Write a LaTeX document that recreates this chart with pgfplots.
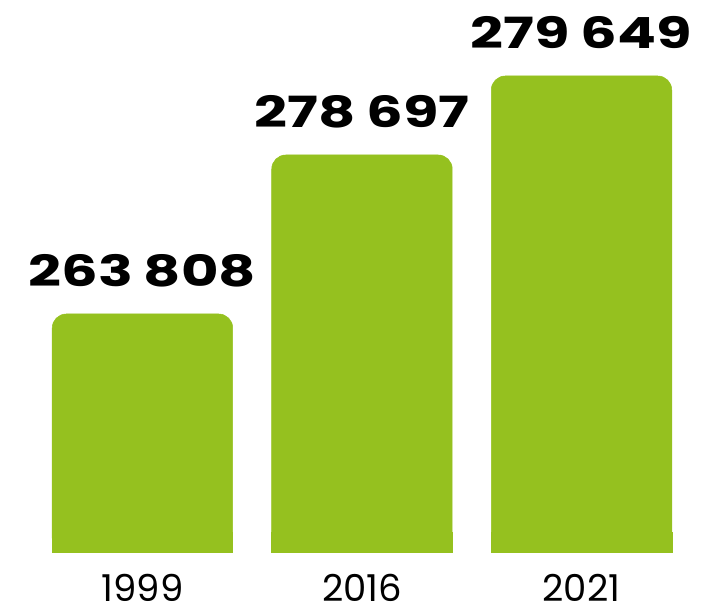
\documentclass[border=0pt]{standalone}
\usepackage{fontspec}
\setmainfont{Poppins}
\newfontfamily\valfont[FakeStretch=1.34]{Poppins}
\usepackage{pgfplots}
\pgfplotsset{compat=1.18}
\definecolor{barGreen}{HTML}{95C11F}

% h = drawn bar height (axis starts at 20), v = printed value
\pgfplotstableread{
x h v
0 258 263808
1 417 278697
2 496 279649
}\tbl

% square base that hides the lower rounded corners
\pgfplotstableread{
x h
0 40
1 40
2 40
}\base

\begin{document}
\begin{tikzpicture}
\path[use as bounding box] (0,-56pt) rectangle (704pt,552pt);
\begin{axis}[
  at={(0,0)}, anchor=south west,
  scale only axis,
  width=704pt, height=552pt,
  xmin=-0.649, xmax=2.558,
  ymin=20, ymax=572,
  ybar, bar width=180.5pt, bar shift=0pt,
  axis line style={draw=none},
  tick style={draw=none},
  ytick=\empty,
  xtick={0,1,2},
  xticklabels={1999,2016,2021},
  xticklabel style={font=\fontsize{37}{37}\selectfont, anchor=north, inner sep=0pt, yshift=-18pt},
]
\addplot[fill=barGreen, draw=barGreen, line width=0.5pt, rounded corners=14pt,
  point meta=explicit,
  nodes near coords={\pgfmathprintnumber[fixed,precision=0,1000 sep={\hspace{0.25em}},assume math mode=true]{\pgfplotspointmeta}},
  nodes near coords style={font=\valfont\bfseries\fontsize{43}{43}\selectfont, anchor=south, inner sep=0pt, yshift=27pt},
] table[x=x, y=h, meta=v] {\tbl};
\addplot[fill=barGreen, draw=barGreen, line width=0.5pt] table[x=x, y=h] {\base};
\end{axis}
\end{tikzpicture}
\end{document}
